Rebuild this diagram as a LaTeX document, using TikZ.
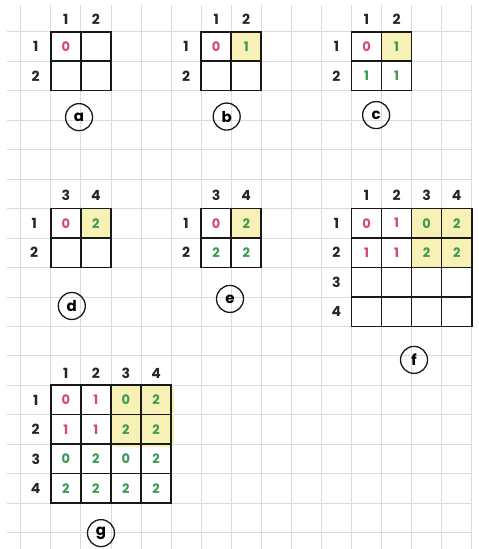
\documentclass[tikz,border=0pt]{standalone}
\usepackage{fontspec}
\setmainfont{Poppins}
\definecolor{dpink}{HTML}{D6457C}
\definecolor{dgreen}{HTML}{3A9A52}
\definecolor{hlyellow}{HTML}{F7F1B5}
\definecolor{gridgray}{HTML}{DCDCDC}
\newcommand\boardlines[3]{%
  \pgfmathtruncatemacro\nm{#3-1}%
  \foreach \k in {1,...,\nm}{%
    \draw[cellbox] ({#1+\k},#2) -- ({#1+\k},{#2+#3});
    \draw[cellbox] (#1,{#2+\k}) -- ({#1+#3},{#2+\k});
  }%
  \draw[cellbox] (#1,#2) rectangle ({#1+#3},{#2+#3});
}
\begin{document}
\begin{tikzpicture}[x=30.07pt,y=-29.46pt,
  gridline/.style={draw=gridgray,line width=0.7pt},
  cellbox/.style={draw=black!90,line width=1.6pt,line cap=round},
  hl/.style={fill=hlyellow,rounded corners=2pt},
  pk/.style={text=dpink,font=\fontsize{13}{13}\selectfont\bfseries},
  gr/.style={text=dgreen,font=\fontsize{13}{13}\selectfont\bfseries},
  lbl/.style={text=black!85,font=\fontsize{14}{14}\selectfont\bfseries},
  tag/.style={circle,draw=black!90,line width=1.3pt,minimum size=27pt,inner sep=0pt,
              font=\fontsize{15}{15}\selectfont\bfseries}]
\useasboundingbox[fill=white] (-0.6884,-1.0760) rectangle (15.208,17.559);
% background grid paper
\foreach \i in {0,...,15}{\draw[gridline] (\i,-0.906) -- (\i,17.559);}
\foreach \j in {0,...,17}{\draw[gridline] (-0.456,\j) -- (15.01,\j);}

% ---------- (a) ----------
\boardlines{1}{0}{2}
\node[lbl] (acol1) at (1.5,-0.42) {1};
\node[lbl] (acol2) at (2.5,-0.42) {2};
\node[lbl] (arow1) at (0.5,0.5) {1};
\node[lbl] (arow2) at (0.5,1.5) {2};
\node[pk] (a11) at (1.5,0.5) {0};
\node[tag] (taga) at (1.94,2.9) {a};

% ---------- (b) ----------
\fill[hl] (7,0) rectangle (8,1);
\boardlines{6}{0}{2}
\node[lbl] (bcol1) at (6.5,-0.42) {1};
\node[lbl] (bcol2) at (7.5,-0.42) {2};
\node[lbl] (brow1) at (5.5,0.5) {1};
\node[lbl] (brow2) at (5.5,1.5) {2};
\node[pk] (b11) at (6.5,0.5) {0};
\node[gr] (b12) at (7.5,0.5) {1};
\node[tag] (tagb) at (6.85,2.88) {b};

% ---------- (c) ----------
\fill[hl] (12,0) rectangle (13,1);
\boardlines{11}{0}{2}
\node[lbl] (ccol1) at (11.5,-0.42) {1};
\node[lbl] (ccol2) at (12.5,-0.42) {2};
\node[lbl] (crow1) at (10.5,0.5) {1};
\node[lbl] (crow2) at (10.5,1.5) {2};
\node[pk] (c11) at (11.5,0.5) {0};
\node[gr] (c12) at (12.5,0.5) {1};
\node[gr] (c21) at (11.5,1.5) {1};
\node[gr] (c22) at (12.5,1.5) {1};
\node[tag] (tagc) at (11.82,2.83) {c};

% ---------- (d) ----------
\fill[hl] (2,6) rectangle (3,7);
\boardlines{1}{6}{2}
\node[lbl] (dcol1) at (1.5,5.56) {3};
\node[lbl] (dcol2) at (2.5,5.56) {4};
\node[lbl] (drow1) at (0.45,6.5) {1};
\node[lbl] (drow2) at (0.45,7.5) {2};
\node[pk] (d11) at (1.5,6.5) {0};
\node[gr] (d12) at (2.5,6.5) {2};
\node[tag] (tagd) at (1.70,9.31) {d};

% ---------- (e) ----------
\fill[hl] (7,6) rectangle (8,7);
\boardlines{6}{6}{2}
\node[lbl] (ecol1) at (6.5,5.56) {3};
\node[lbl] (ecol2) at (7.5,5.56) {4};
\node[lbl] (erow1) at (5.5,6.5) {1};
\node[lbl] (erow2) at (5.5,7.5) {2};
\node[pk] (e11) at (6.5,6.5) {0};
\node[gr] (e12) at (7.5,6.5) {2};
\node[gr] (e21) at (6.5,7.5) {2};
\node[gr] (e22) at (7.5,7.5) {2};
\node[tag] (tage) at (6.96,9.07) {e};

% ---------- (f) ----------
\fill[hl] (13,6) rectangle (15,8);
\boardlines{11}{6}{4}
\foreach \c [count=\n] in {1,2,3,4}{
  \node[lbl] (fcol\n) at ({10.5+\n},5.56) {\c};
  \node[lbl] (frow\n) at (10.5,{5.5+\n}) {\c};
}
\node[pk] (f11) at (11.5,6.5) {0};
\node[pk] (f12) at (12.5,6.5) {1};
\node[gr] (f13) at (13.5,6.5) {0};
\node[gr] (f14) at (14.5,6.5) {2};
\node[pk] (f21) at (11.5,7.5) {1};
\node[pk] (f22) at (12.5,7.5) {1};
\node[gr] (f23) at (13.5,7.5) {2};
\node[gr] (f24) at (14.5,7.5) {2};
\node[tag] (tagf) at (13.08,11.14) {f};

% ---------- (g) ----------
\fill[hl,rounded corners=5pt] (3,12) rectangle (5.1,14.1);
\boardlines{1}{12}{4}
\foreach \c [count=\n] in {1,2,3,4}{
  \node[lbl] (gcol\n) at ({0.5+\n},11.6) {\c};
  \node[lbl] (grow\n) at (0.5,{11.5+\n}) {\c};
}
\node[pk] (g11) at (1.5,12.5) {0};
\node[pk] (g12) at (2.5,12.5) {1};
\node[gr] (g13) at (3.5,12.5) {0};
\node[gr] (g14) at (4.5,12.5) {2};
\node[pk] (g21) at (1.5,13.5) {1};
\node[pk] (g22) at (2.5,13.5) {1};
\node[gr] (g23) at (3.5,13.5) {2};
\node[gr] (g24) at (4.5,13.5) {2};
\node[gr] (g31) at (1.5,14.5) {0};
\node[gr] (g32) at (2.5,14.5) {2};
\node[gr] (g33) at (3.5,14.5) {0};
\node[gr] (g34) at (4.5,14.5) {2};
\node[gr] (g41) at (1.5,15.5) {2};
\node[gr] (g42) at (2.5,15.5) {2};
\node[gr] (g43) at (3.5,15.5) {2};
\node[gr] (g44) at (4.5,15.5) {2};
\node[tag] (tagg) at (2.67,17.02) {g};
\end{tikzpicture}
\end{document}
